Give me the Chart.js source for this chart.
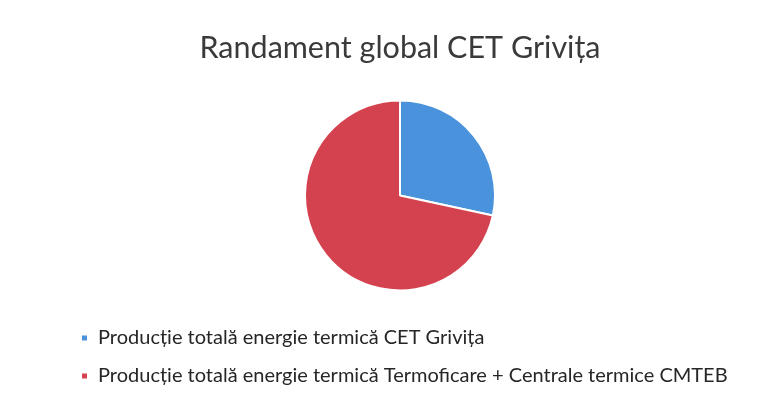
<!DOCTYPE html>
<html><head><meta charset="utf-8">
<script src="https://cdn.jsdelivr.net/npm/chart.js@4"></script>
<style>html,body{margin:0;padding:0;background:#fff}#wrap{width:773px;height:400px}</style>
</head><body><div id="wrap"><canvas id="c" width="773" height="400"></canvas></div>
<script>
const titleText = "Randament global CET Grivița";
const categories = [
  "Producție totală energie termică CET Grivița",
  "Producție totală energie termică Termoficare + Centrale termice CMTEB"
];
const values = [28.4, 71.6];
const colors = ["#4a92dc", "#d5424f"];

new Chart(document.getElementById('c'), {
  type: 'pie',
  data: { labels: categories, datasets: [{ data: values, backgroundColor: colors, borderColor: '#ffffff', borderWidth: 2, radius: 95 }] },
  options: {
    responsive: false, animation: false,
    layout: { padding: { left: 63, right: 36, top: 0, bottom: 4 } },
    plugins: {
      title: { display: true, text: titleText, color: '#3a3a3a', font: { family: 'Lato', size: 30.5, weight: 'normal' }, padding: { top: 29.7, bottom: 14.5 } },
      legend: { position: 'bottom', align: 'start',
        labels: { boxWidth: 7, boxHeight: 7, padding: 18, color: '#262626', font: { family: 'Lato', size: 20 } } },
      tooltip: { enabled: false }
    }
  }
});
</script></body></html>
